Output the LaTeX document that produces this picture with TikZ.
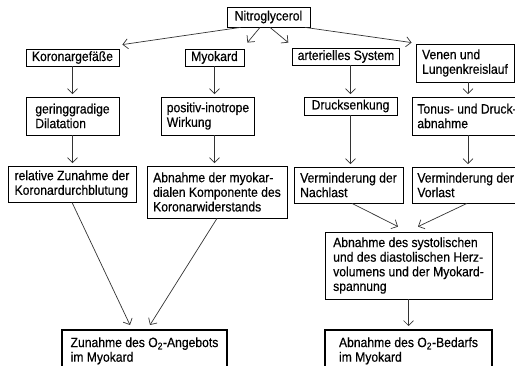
\documentclass[tikz,border=0pt]{standalone}
\usepackage{fontspec}
\setmainfont{Liberation Sans}[FakeStretch=0.9, FakeBold=0.4]
\usetikzlibrary{arrows.meta,calc}

\begin{document}
\begin{tikzpicture}[x=1pt, y=-1pt,
  box/.style={draw, line width=0.8pt, inner xsep=5pt, inner ysep=2pt, align=left,
    font=\fontsize{13.5}{14.6}\selectfont},
  endbox/.style={box, line width=1.8pt},
  arr/.style={-{Straight Barb[length=5pt,width=10pt]}, line width=0.7pt, black!80}]
  \useasboundingbox (0,0) rectangle (515,366);
  % top row
  \node[box, minimum width=83pt, minimum height=20pt] (nitro) at (268.5,17) {Nitroglycerol};
  \node[box, minimum width=93pt, minimum height=17pt] (koro) at (72.5,57.5) {Koronargefäße};
  \node[box, minimum width=59pt, minimum height=17pt] (myo) at (214.5,57.5) {Myokard};
  \node[box, minimum width=104pt, minimum height=17pt] (art) at (346,56.5) {arterielles System};
  \node[box, minimum width=98pt, minimum height=38pt] (venen) at (465,63) {Venen und\\Lungenkreislauf};
  % second row
  \node[box, minimum width=93pt, minimum height=38pt] (dila) at (72.5,116) {geringgradige\\Dilatation};
  \node[box, minimum width=84pt, minimum height=38pt] (inotrop) at (208,116) {positiv-inotrope\\Wirkung};
  \node[box, minimum width=93pt, minimum height=18pt] (drucks) at (350.5,106) {Drucksenkung};
  \node[box, minimum height=38pt, anchor=west, inner xsep=5pt] (tonus) at (412,116) {Tonus- und Druck-\\abnahme};
  % third row
  \node[box, minimum width=128pt, minimum height=36pt] (koroflow) at (72,184) {relative Zunahme der\\Koronardurchblutung};
  \node[box, minimum width=140pt, minimum height=52pt] (kororesist) at (217,192) {Abnahme der myokar-\\dialen Komponente des\\Koronarwiderstands};
  \node[box, minimum width=109pt, minimum height=36pt] (nachlast) at (348.5,185) {Verminderung der\\Nachlast};
  \node[box, minimum height=36pt, anchor=west, inner xsep=5pt] (vorlast) at (412,185) {Verminderung der\\Vorlast};
  \node[box, minimum width=167pt, minimum height=67pt] (volumen) at (408.5,265.5) {Abnahme des systolischen\\und des diastolischen Herz-\\volumens und der Myokard-\\spannung};
  % bottom row
  \node[endbox, minimum width=165pt, minimum height=42pt, anchor=north] (angebot) at (144.5,329) {Zunahme des O\textsubscript{2}-Angebots\\im Myokard};
  \node[endbox, minimum width=167pt, minimum height=42pt, anchor=north] (bedarf) at (408.5,329) {Abnahme des O\textsubscript{2}-Bedarfs\\im Myokard};

  \draw[arr] ([xshift=-28pt]nitro.south) -- ([shift={(3pt,4pt)}]koro.north east);
  \draw[arr] ([xshift=-8.5pt]nitro.south) -- ([shift={(3pt,6pt)}]myo.north east);
  \draw[arr] ([xshift=1.5pt]nitro.south) -- ([shift={(-4pt,5pt)}]art.north west);
  \draw[arr] ([xshift=36.5pt]nitro.south) -- ([shift={(-4pt,1pt)}]venen.north west);

  \draw[arr, shorten >=2.5pt] (koro.south) -- (koro.south |- dila.north);
  \draw[arr, shorten >=2.5pt] (dila.south) -- (dila.south |- koroflow.north);
  \draw[arr, shorten >=2.5pt] (myo.south) -- (myo.south |- inotrop.north);
  \draw[arr, shorten >=2.5pt] (inotrop.south -| myo.south) -- (kororesist.north -| myo.south);
  \draw[arr, shorten >=2.5pt] (art.south -| drucks.north) -- (drucks.north);
  \draw[arr, shorten >=2.5pt] (drucks.south) -- (drucks.south |- nachlast.north);
  \draw[arr, shorten >=2.5pt] ($(venen.south)+(3pt,0)$) -- ($(venen.south |- tonus.north)+(3pt,0)$);
  \draw[arr, shorten >=2.5pt] ($(venen.south |- tonus.south)+(3pt,0)$) -- ($(venen.south |- vorlast.north)+(3pt,0)$);

  \draw[arr] (koroflow.south) -- ([shift={(-14.5pt,4pt)}]angebot.north);
  \draw[arr] (kororesist.south) -- ([shift={(5.5pt,4pt)}]angebot.north);
  \draw[arr] ([xshift=3.5pt]nachlast.south) -- ([shift={(-10.5pt,5pt)}]volumen.north);
  \draw[arr] ($(venen.south |- vorlast.south)+(2pt,0)$) -- ([shift={(9.5pt,5pt)}]volumen.north);
  \draw[arr, shorten >=3pt] (volumen.south) -- (volumen.south |- bedarf.north);
\end{tikzpicture}
\end{document}
